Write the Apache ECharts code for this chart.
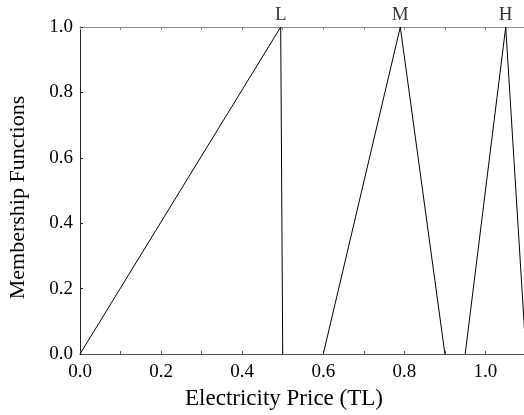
<!DOCTYPE html>
<html>
<head>
<meta charset="utf-8">
<script src="https://cdn.jsdelivr.net/npm/echarts@6/dist/echarts.min.js"></script>
<style>
  html, body { margin: 0; padding: 0; background: #fff; }
  #chart { width: 524px; height: 415px; }
</style>
</head>
<body>
<div id="chart"></div>
<script>
// Triangular membership functions for electricity price levels
const setNames = ['L', 'M', 'H'];
const lowX = [0.0, 0.495, 0.5];
const lowY = [0, 1, 0];
const midX = [0.6, 0.79, 0.9];
const midY = [0, 1, 0];
const highX = [0.95, 1.05, 1.1];
const highY = [0, 1, 0];

const xTickLabels = ['0.0', '0.2', '0.4', '0.6', '0.8', '1.0'];
const yTickLabels = ['0.0', '0.2', '0.4', '0.6', '0.8', '1.0'];

const FONT = '"Liberation Serif", "DejaVu Serif", serif';
const AXIS_COLOR = '#555';

const groups = [[lowX, lowY], [midX, midY], [highX, highY]];

const lineSeries = groups.map((g, i) => ({
  type: 'line',
  name: setNames[i],
  data: g[0].map((x, k) => [x, g[1][k]]),
  symbol: 'none',
  lineStyle: { color: '#000', width: 1 },
  silent: true,
  clip: true
}));

// Set names written above each peak
const peakLabels = {
  type: 'scatter',
  data: groups.map((g, i) => {
    const k = g[1].indexOf(1);
    return { value: [g[0][k], g[1][k]], name: setNames[i] };
  }),
  symbolSize: 0,
  silent: true,
  clip: false,
  label: {
    show: true, position: 'top', distance: 2,
    formatter: p => p.name,
    fontFamily: FONT, fontSize: 19, color: '#000'
  }
};

const chart = echarts.init(document.getElementById('chart'), null, { renderer: 'canvas' });
chart.setOption({
  animation: false,
  grid: { left: 80, top: 27, bottom: 61, right: -2, outerBoundsMode: 'none', containLabel: false },
  xAxis: [
    {
      type: 'value', position: 'bottom', min: 0, max: 1.1, interval: 0.1,
      name: 'Electricity Price (TL)', nameLocation: 'middle', nameGap: 33,
      nameTextStyle: { fontFamily: FONT, fontSize: 23, color: '#000', padding: [0, 38, 0, 0] },
      axisLine: { show: true, lineStyle: { color: AXIS_COLOR, width: 1 } },
      axisTick: { show: true, inside: true, length: 3, lineStyle: { color: AXIS_COLOR } },
      axisLabel: {
        fontFamily: FONT, fontSize: 19, color: '#000', margin: 9,
        showMaxLabel: false,
        formatter: v => {
          const s = v.toFixed(1);
          return xTickLabels.includes(s) && Math.round(v * 10) % 2 === 0 ? s : '';
        }
      },
      splitLine: { show: false }
    },
    {
      type: 'value', position: 'top', min: 0, max: 1.1, interval: 0.1,
      axisLine: { show: true, lineStyle: { color: '#888', width: 1 } },
      axisTick: { show: true, inside: true, length: 3, lineStyle: { color: '#888' } },
      axisLabel: { show: false },
      splitLine: { show: false }
    }
  ],
  yAxis: {
    type: 'value', min: 0, max: 1, interval: 0.2,
    name: 'Membership Functions', nameLocation: 'middle', nameGap: 51,
    nameTextStyle: { fontFamily: FONT, fontSize: 22, color: '#000', padding: [0, 14, 0, 0] },
    axisLine: { show: true, lineStyle: { color: '#222', width: 1 } },
    axisTick: { show: true, inside: true, length: 3, lineStyle: { color: '#222' } },
    axisLabel: {
      fontFamily: FONT, fontSize: 19, color: '#000', margin: 7,
      formatter: v => yTickLabels[Math.round(v * 5)]
    },
    splitLine: { show: false }
  },
  series: lineSeries.concat([peakLabels])
});
</script>
</body>
</html>
